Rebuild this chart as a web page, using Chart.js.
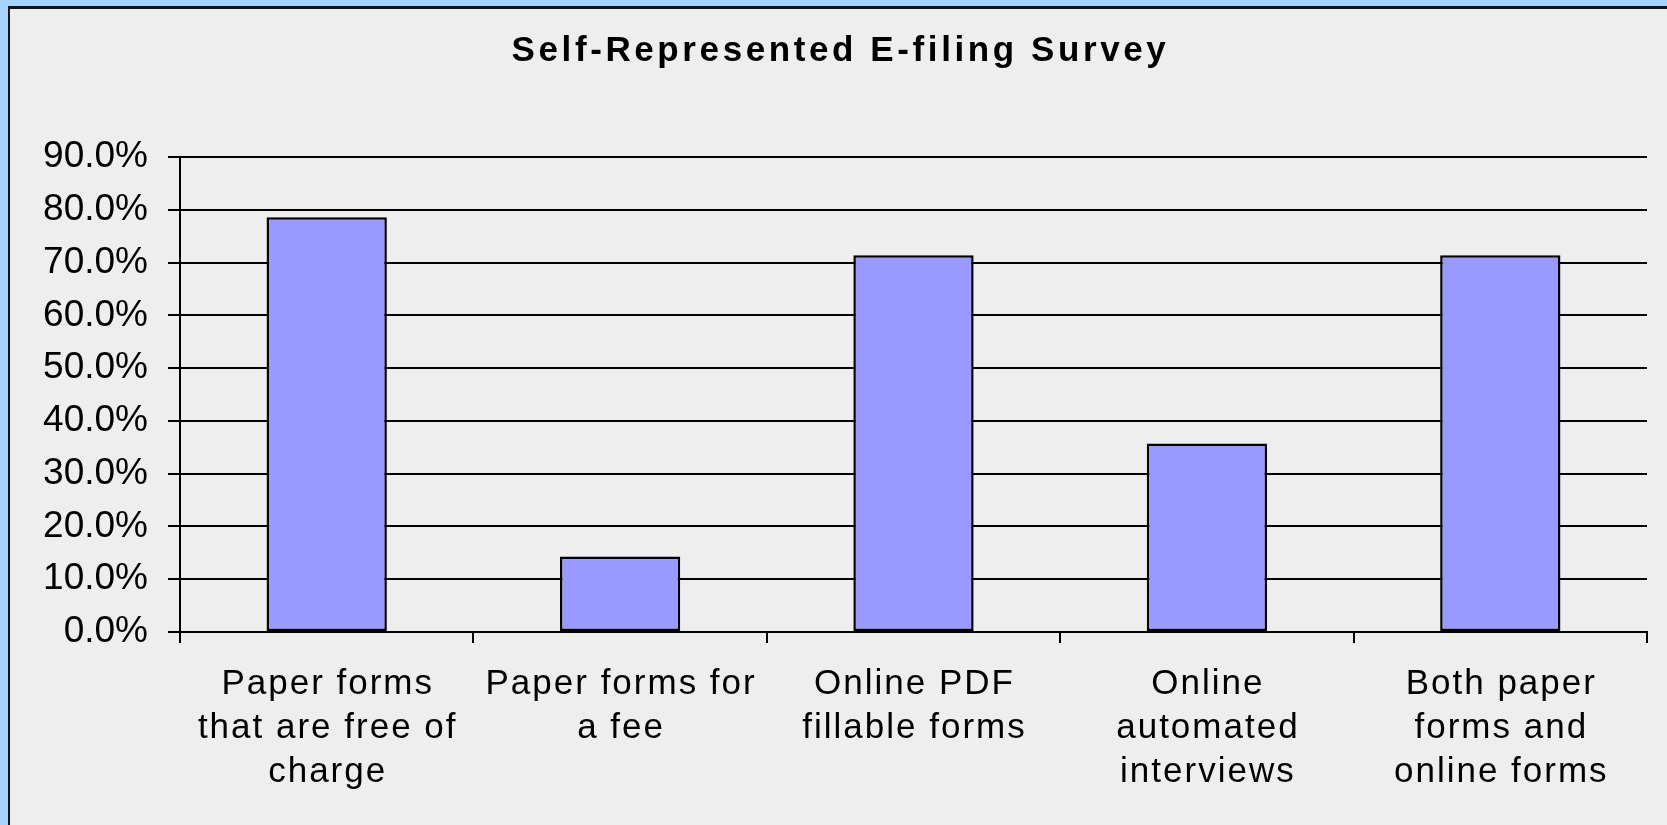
<!DOCTYPE html>
<html>
<head>
<meta charset="utf-8">
<script src="https://cdn.jsdelivr.net/npm/chart.js@4.4.0/dist/chart.umd.min.js"></script>
<style>
  html, body { margin: 0; padding: 0; width: 1667px; height: 825px; overflow: hidden; background: #a6d4ff; }
  #frame { position: absolute; left: 8px; top: 6px; width: 1700px; height: 900px; background: #eeeeee; border-left: 2px solid #141414; border-top: 3px solid #141414; }
  #c { position: absolute; left: 0; top: 0; }
</style>
</head>
<body>
<div id="frame"></div>
<canvas id="c" width="1667" height="825"></canvas>
<script>
const chartTitle = 'Self-Represented E-filing Survey';
const categories = [
  ['Paper forms', 'that are free of', 'charge'],
  ['Paper forms for', 'a fee'],
  ['Online PDF', 'fillable forms'],
  ['Online', 'automated', 'interviews'],
  ['Both paper', 'forms and', 'online forms']
];
const percentValues = [78.6, 14.3, 71.4, 35.7, 71.4];
const yTickMin = 0;
const yTickMax = 90;
const yTickStep = 10;

const textStylePlugin = {
  id: 'textStyle',
  beforeDraw(chart) {
    const tb = chart.titleBlock;
    if (tb && !tb._wrappedDraw) {
      const orig = tb.draw;
      tb.draw = function (...args) {
        const c = this.ctx;
        c.save();
        c.letterSpacing = '3.6px';
        c.translate(17, 0);
        orig.apply(this, args);
        c.restore();
      };
      tb._wrappedDraw = true;
    }
    const xs = chart.scales.x;
    if (xs && !xs._wrappedDraw) {
      const orig = xs.drawLabels;
      xs.drawLabels = function (...args) {
        const c = this.ctx;
        c.save();
        c.letterSpacing = '2px';
        c.translate(1, 0);
        orig.apply(this, args);
        c.restore();
      };
      xs._wrappedDraw = true;
    }
  }
};

new Chart(document.getElementById('c'), {
  type: 'bar',
  data: {
    labels: categories,
    datasets: [{
      data: percentValues,
      backgroundColor: '#9999ff',
      borderColor: '#000000',
      borderWidth: 2.5,
      borderSkipped: false,
      categoryPercentage: 1,
      barPercentage: 0.41
    }]
  },
  options: {
    responsive: false,
    devicePixelRatio: 1,
    animation: false,
    layout: { padding: { left: 0, right: 20, top: 0, bottom: 0 } },
    plugins: {
      legend: { display: false },
      tooltip: { enabled: false },
      title: {
        display: true,
        text: chartTitle,
        color: '#000000',
        font: { family: "'Liberation Sans', Arial, sans-serif", size: 35, weight: 'bold', lineHeight: 1.2 },
        padding: { top: 30, bottom: 85 }
      }
    },
    scales: {
      x: {
        offset: true,
        grid: { display: true, drawOnChartArea: false, drawTicks: true, tickLength: 11, color: '#000000', lineWidth: 2, offset: true },
        border: { display: true, color: '#000000', width: 2 },
        ticks: {
          color: '#000000',
          padding: 19,
          maxRotation: 0,
          autoSkip: false,
          font: { family: "'Liberation Sans', Arial, sans-serif", size: 35, lineHeight: 1.263 }
        },
        afterFit(scale) { scale.height = 193; }
      },
      y: {
        min: yTickMin,
        max: yTickMax,
        grid: { display: true, drawOnChartArea: true, drawTicks: true, tickLength: 12, color: '#000000', lineWidth: 2 },
        border: { display: true, color: '#000000', width: 2 },
        ticks: {
          stepSize: yTickStep,
          color: '#000000',
          padding: 20,
          font: { family: "'Liberation Sans', Arial, sans-serif", size: 37 },
          callback: (v) => Number(v).toFixed(1) + '%'
        },
        afterFit(scale) { scale.width = 180; }
      }
    }
  },
  plugins: [textStylePlugin]
});
</script>
</body>
</html>
